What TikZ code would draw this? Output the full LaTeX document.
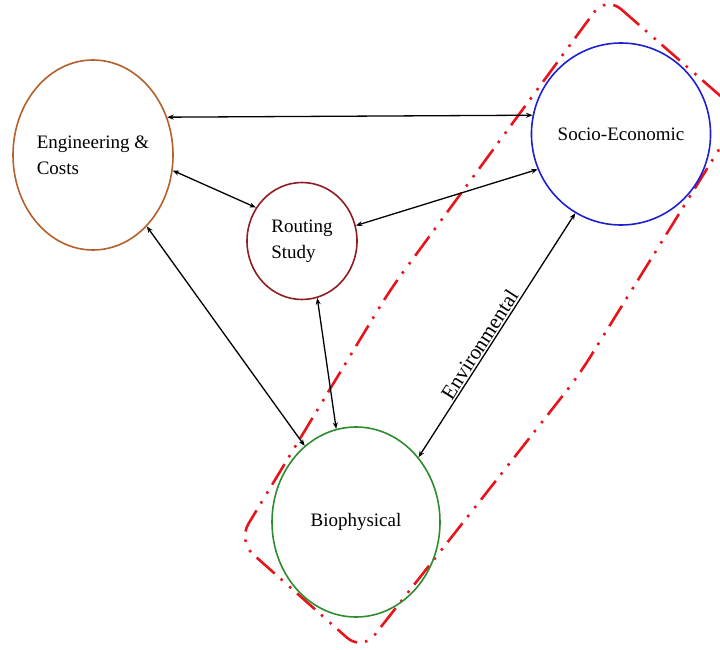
\documentclass[tikz,border=0pt]{standalone}
\usepackage{fontspec}
\setmainfont{Liberation Serif}
\usetikzlibrary{arrows.meta,shapes.geometric}
\definecolor{engc}{HTML}{B5602A}
\definecolor{socc}{HTML}{1E1ED2}
\definecolor{rouc}{HTML}{8E1E22}
\definecolor{bioc}{HTML}{2E8B2E}
\definecolor{boxc}{HTML}{E8141C}
\begin{document}
\begin{tikzpicture}[x=1pt,y=-1pt,
  blob/.style={ellipse,draw,line width=1.6pt,inner sep=0pt,font=\fontsize{19}{26}\selectfont,align=left},
  link/.style={{Stealth[length=6.5pt,width=5pt]}-{Stealth[length=6.5pt,width=5pt]},line width=1.3pt,black},
  group/.style={draw=boxc,line width=2.6pt,rounded corners=20pt,dash pattern=on 24pt off 8pt on 2.5pt off 9pt on 2.5pt off 8pt}]
\useasboundingbox (0,0) rectangle (720,650);
\clip (0,0) rectangle (720,650);
% red dash-dot-dot enclosure
\coordinate (gT) at (606,-4);
\coordinate (gR) at (741,114);
\coordinate (gRm) at (579,375);
\coordinate (gB) at (362,651);
\coordinate (gL) at (238,541);
\coordinate (gLm) at (390,290);
\draw[group] (gT) -- (gR) -- (gRm) -- (gB) -- (gL) -- (gLm) -- cycle;
\node[blob,draw=engc,minimum width=160pt,minimum height=190pt] (eng) at (93,155) {Engineering \&\\Costs};
\node[blob,draw=socc,minimum width=160pt,minimum height=182pt] (soc) at (621,134) {Socio-Economic};
\node[blob,draw=rouc,minimum width=110pt,minimum height=117pt] (rou) at (302,241) {Routing\\Study};
\node[blob,draw=bioc,minimum width=168pt,minimum height=190pt] (bio) at (356,522) {Biophysical};
\draw[link] (eng.27) -- (soc.168);
\draw[link] (eng.-11) -- (rou.144);
\draw[link] (rou.16) -- (soc.203);
\draw[link] (eng.-53) -- (bio.124);
\draw[link] (rou.-75) -- (bio.102);
\draw[link] (soc.240) -- (bio.46) node[pos=0.56,sloped,above,inner sep=1.5pt,font=\fontsize{21}{24}\selectfont] (env) {Environmental};
\end{tikzpicture}
\end{document}
